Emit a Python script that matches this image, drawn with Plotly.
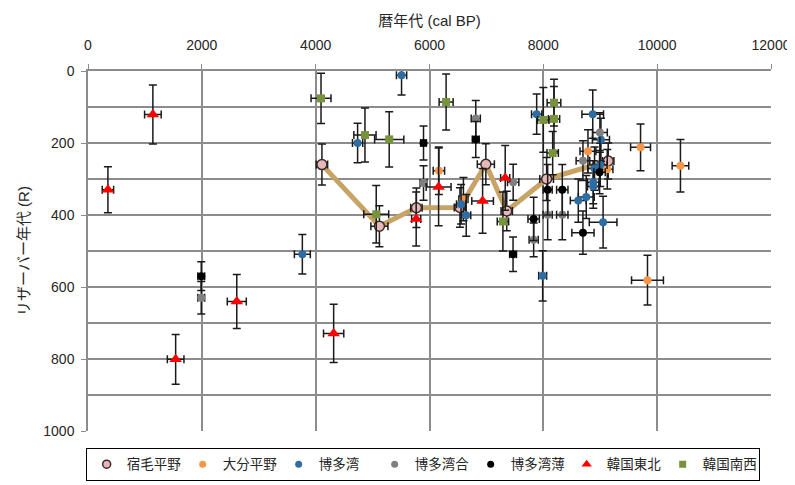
import plotly.graph_objects as go

# 宿毛平野 (pink circles with line)
sukumo_x = [4110, 5120, 5770, 6535, 6990, 7357, 8058, 9140]
sukumo_y = [260, 431, 380, 379, 259, 389, 300, 250]
sukumo_xe = [100, 150, 100, 100, 150, 100, 120, 100]
sukumo_ye = [57, 57, 55, 55, 57, 55, 60, 50]

# 大分平野 (orange)
oita_x = [6165, 6596, 8784, 9123, 9708, 10409, 9830]
oita_y = [277, 356, 223, 273, 212, 263, 581]
oita_xe = [100, 80, 140, 100, 175, 146, 280]
oita_ye = [66, 60, 60, 55, 65, 73, 69]

# 博多湾 (blue)
hakata_x = [3766, 4737, 5509, 6555, 6645, 7883, 7988, 8868, 9012, 9000, 8900, 8877, 8877, 8754, 8614, 9050]
hakata_y = [509, 200, 12, 370, 401, 120, 569, 120, 191, 261, 271, 309, 321, 350, 360, 420]
hakata_xe = [140, 90, 90, 80, 80, 90, 70, 190, 150, 120, 120, 100, 100, 140, 140, 243]
hakata_ye = [55, 55, 55, 55, 58, 56, 70, 67, 60, 60, 60, 60, 60, 60, 60, 72]

# 博多湾合 (gray)
hakataA_x = [1990, 5895, 6813, 7470, 7830, 8076, 8333, 8994, 8696]
hakataA_y = [630, 311, 132, 309, 469, 399, 399, 171, 249]
hakataA_xe = [60, 60, 80, 100, 80, 80, 100, 130, 120]
hakataA_ye = [45, 48, 50, 50, 47, 70, 70, 55, 55]

# 博多湾薄 (black)
hakataB_x = [1990, 5895, 6813, 7468, 7830, 8076, 8333, 8988, 8696]
hakataB_y = [570, 200, 190, 509, 411, 330, 330, 281, 449]
hakataB_xe = [60, 50, 60, 60, 100, 80, 100, 100, 195]
hakataB_ye = [40, 47, 50, 48, 60, 70, 70, 60, 60]

# 韓国東北 (red triangles)
kne_x = [350, 1140, 1540, 2614, 4316, 5766, 6160, 6933, 7330]
kne_y = [330, 121, 801, 640, 729, 411, 322, 361, 297]
kne_xe = [100, 146, 146, 167, 178, 80, 219, 190, 80]
kne_ye = [64, 82, 69, 75, 81, 75, 108, 90, 90]

# 韓国南西 (green squares)
ksw_x = [4094, 4866, 5064, 5292, 6292, 7290, 8000, 8187, 8187, 8164]
ksw_y = [76, 178, 398, 190, 86, 418, 136, 88, 133, 228]
ksw_xe = [175, 195, 219, 257, 123, 100, 100, 120, 100, 100]
ksw_ye = [70, 75, 80, 77, 78, 82, 90, 65, 90, 60]

font_family = "Liberation Sans, Arial, Noto Sans CJK JP, sans-serif"
ERR = "#1a1a1a"

def errs(xe, ye):
    return (dict(type="data", array=xe, color=ERR, thickness=1.5, width=4),
            dict(type="data", array=ye, color=ERR, thickness=1.5, width=4))

fig = go.Figure()

# line for 宿毛平野
fig.add_trace(go.Scatter(x=sukumo_x, y=sukumo_y, mode="lines",
                         line=dict(color="#C8A366", width=5),
                         showlegend=False, hoverinfo="skip"))

series = [
    ("宿毛平野", sukumo_x, sukumo_y, sukumo_xe, sukumo_ye,
     dict(symbol="circle", size=10, color="#E6B9B8", line=dict(color="#3a2a2a", width=1.5)),
     dict(symbol="circle", size=8, color="#E6B9B8", line=dict(color="#3a2a2a", width=1.5))),
    ("大分平野", oita_x, oita_y, oita_xe, oita_ye,
     dict(symbol="circle", size=8, color="#F79646", line=dict(width=0)),
     dict(symbol="circle", size=7, color="#F79646", line=dict(width=0))),
    ("博多湾", hakata_x, hakata_y, hakata_xe, hakata_ye,
     dict(symbol="circle", size=8, color="#2E6CA4", line=dict(width=0)),
     dict(symbol="circle", size=7, color="#2E6CA4", line=dict(width=0))),
    ("博多湾合", hakataA_x, hakataA_y, hakataA_xe, hakataA_ye,
     dict(symbol="circle", size=8, color="#808080", line=dict(width=0)),
     dict(symbol="circle", size=7, color="#808080", line=dict(width=0))),
    ("博多湾薄", hakataB_x, hakataB_y, hakataB_xe, hakataB_ye,
     dict(symbol="circle", size=8, color="#000000", line=dict(width=0)),
     dict(symbol="circle", size=7, color="#000000", line=dict(width=0))),
    ("韓国東北", kne_x, kne_y, kne_xe, kne_ye,
     dict(symbol="triangle-up", size=11, color="#FF0000", line=dict(width=0)),
     dict(symbol="triangle-up", size=9, color="#FF0000", line=dict(width=0))),
    ("韓国南西", ksw_x, ksw_y, ksw_xe, ksw_ye,
     dict(symbol="square", size=8, color="#77933C", line=dict(width=0)),
     dict(symbol="square", size=7, color="#77933C", line=dict(width=0))),
]

for name, xs, ys, xe, ye, mk, lmk in series:
    ex, ey = errs(xe, ye)
    fig.add_trace(go.Scatter(x=xs, y=ys, mode="markers", name=name,
                             marker=mk, error_x=ex, error_y=ey, showlegend=False))

# legend-only entries with small symbols
for name, xs, ys, xe, ye, mk, lmk in series:
    fig.add_trace(go.Scatter(x=[None], y=[None], mode="markers", name=name,
                             marker=lmk, showlegend=True, hoverinfo="skip"))

GRID = "#8c8c8c"
fig.update_layout(
    width=795, height=485,
    margin=dict(l=80, r=31, t=61, b=55),
    paper_bgcolor="white", plot_bgcolor="white",
    font=dict(family=font_family, size=14, color="#262626"),
    showlegend=True,
    legend=dict(orientation="h", x=0.49, xanchor="center", y=-0.047, yanchor="top",
                bordercolor="#000000", borderwidth=1, font=dict(size=13.5),
                entrywidth=51, itemwidth=30, tracegroupgap=0),
    xaxis=dict(side="top", range=[0, 12000], dtick=2000, tick0=0, tickformat="d",
               showgrid=True, gridcolor=GRID, gridwidth=1.5,
               showline=True, linecolor=GRID, linewidth=1.5, mirror=False,
               ticks="outside", ticklen=5, tickcolor=GRID, ticklabelstandoff=9,
               zeroline=False,
               title=dict(text="暦年代 (cal BP)", font=dict(size=15), standoff=6),
               tickfont=dict(size=14)),
    yaxis=dict(range=[1000, 0], dtick=200, tick0=0,
               showgrid=True, gridcolor=GRID, gridwidth=1.5,
               minor=dict(dtick=100, showgrid=True, gridcolor=GRID, gridwidth=1.5),
               showline=True, linecolor=GRID, linewidth=1.5,
               ticks="outside", ticklen=5, tickcolor=GRID, ticklabelstandoff=4,
               zeroline=False,
               title=dict(text="リザーバー年代 (R)", font=dict(size=15), standoff=10),
               tickfont=dict(size=14)),
)

fig.write_html("out.html")
